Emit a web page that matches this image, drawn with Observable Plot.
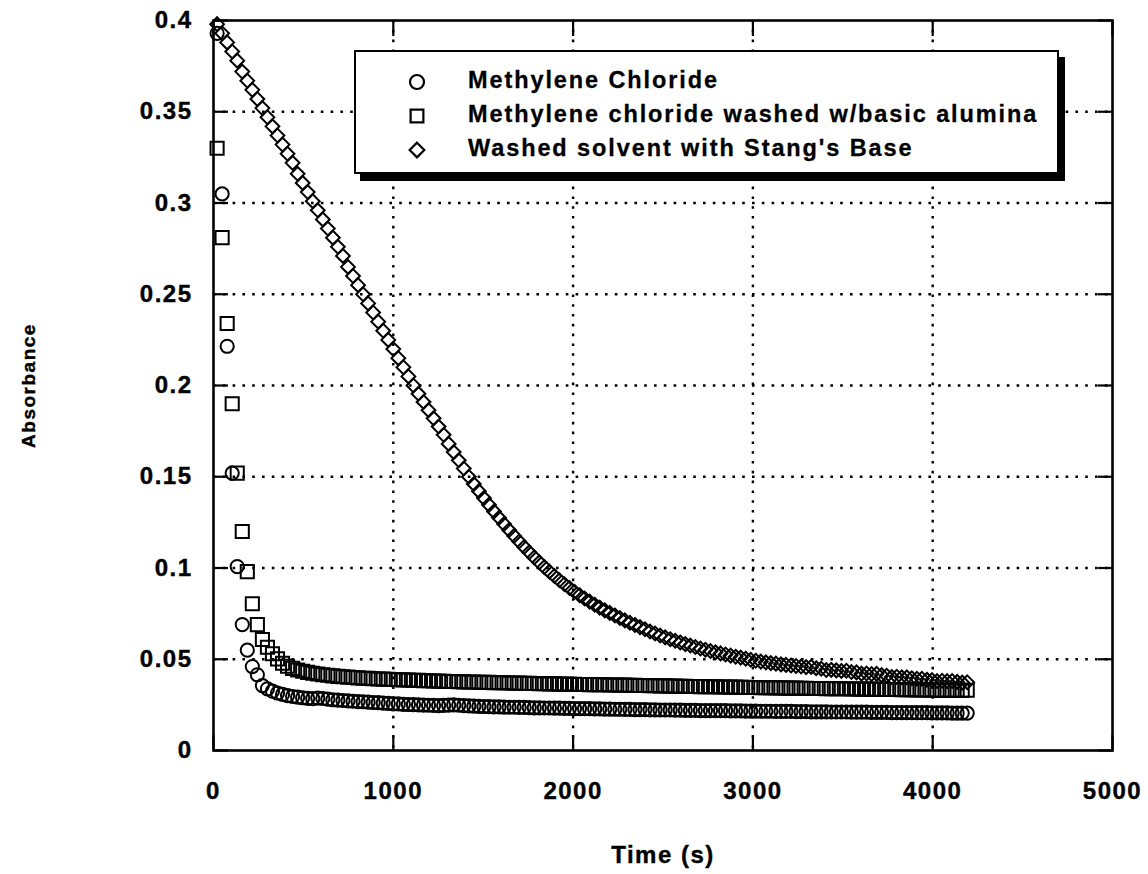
<!DOCTYPE html>
<html>
<head>
<meta charset="utf-8">
<script src="https://cdn.jsdelivr.net/npm/d3@7"></script>
<script src="https://cdn.jsdelivr.net/npm/@observablehq/plot@0.6"></script>
<style>
  html, body { margin: 0; padding: 0; background: #fff; }
  #wrap { position: relative; width: 1148px; height: 874px; }
  #wrap svg text { letter-spacing: 1.5px; stroke: #000; stroke-width: 0.4px; }
  #legend {
    position: absolute; left: 354px; top: 50px; width: 705px; height: 124px;
    box-sizing: border-box; border: 2.5px solid #000; background: #fff;
    box-shadow: 6px 7px 0 #000;
    font-family: "Liberation Sans", Arial, sans-serif; font-weight: bold; font-size: 23.5px;
    letter-spacing: 1.9px; color: #000; -webkit-text-stroke: 0.3px #000;
  }
  .row { position: absolute; left: 0; height: 30px; }
  .row svg { position: absolute; left: 50px; top: 5px; }
  .row span { position: absolute; left: 112px; white-space: nowrap; top: 1px; }
</style>
</head>
<body>
<div id="wrap"></div>
<script>
// ---- data ----
const seriesNames = ["Methylene Chloride", "Methylene chloride washed w/basic alumina", "Washed solvent with Stang's Base"];
const seriesSymbols = ["circle", "square", "diamond2"];

const time = [20,48,76,104,132,160,188,216,244,272,300,328,356,384,412,440,468,496,524,552,
580,608,636,664,692,720,748,776,804,832,860,888,916,944,972,1000,1028,1056,1084,1112,
1140,1168,1196,1224,1252,1280,1308,1336,1364,1392,1420,1448,1476,1504,1532,1560,1588,1616,1644,1672,
1700,1728,1756,1784,1812,1840,1868,1896,1924,1952,1980,2008,2036,2064,2092,2120,2148,2176,2204,2232,
2260,2288,2316,2344,2372,2400,2428,2456,2484,2512,2540,2568,2596,2624,2652,2680,2708,2736,2764,2792,
2820,2848,2876,2904,2932,2960,2988,3016,3044,3072,3100,3128,3156,3184,3212,3240,3268,3296,3324,3352,
3380,3408,3436,3464,3492,3520,3548,3576,3604,3632,3660,3688,3716,3744,3772,3800,3828,3856,3884,3912,
3940,3968,3996,4024,4052,4080,4108,4136,4164,4192];

const methyleneChloride = [0.393,0.305,0.2215,0.152,0.1008,0.069,0.055,0.046,0.0415,0.0356,
0.0338,0.0325,0.0315,0.0307,0.0301,0.0296,0.0292,0.0289,0.0286,0.0284,
0.0287,0.0285,0.0281,0.0278,0.0276,0.0274,0.0272,0.0270,0.0268,0.0267,
0.0265,0.0263,0.0262,0.0260,0.0258,0.0256,0.0255,0.0253,0.0252,0.0251,
0.0250,0.0249,0.0248,0.0247,0.0246,0.0247,0.0249,0.0250,0.0248,0.0246,
0.0244,0.0243,0.0242,0.0241,0.0240,0.0239,0.0239,0.0238,0.0237,0.0237,
0.0236,0.0236,0.0235,0.0234,0.0234,0.0233,0.0233,0.0232,0.0232,0.0231,
0.0231,0.0230,0.0230,0.0229,0.0229,0.0228,0.0228,0.0227,0.0227,0.0226,
0.0226,0.0225,0.0225,0.0224,0.0224,0.0224,0.0223,0.0223,0.0222,0.0222,
0.0222,0.0221,0.0221,0.0220,0.0220,0.0220,0.0219,0.0219,0.0219,0.0218,
0.0218,0.0218,0.0217,0.0217,0.0217,0.0216,0.0216,0.0216,0.0215,0.0215,
0.0215,0.0214,0.0214,0.0214,0.0214,0.0213,0.0213,0.0213,0.0212,0.0212,
0.0212,0.0212,0.0211,0.0211,0.0211,0.0211,0.0210,0.0210,0.0210,0.0210,
0.0209,0.0209,0.0209,0.0209,0.0208,0.0208,0.0208,0.0208,0.0207,0.0207,
0.0207,0.0207,0.0206,0.0206,0.0206,0.0206,0.0205,0.0205,0.0205,0.0205];

const washedAlumina = [0.330,0.281,0.234,0.190,0.152,0.120,0.098,0.0804,0.069,0.0608,
0.0566,0.0530,0.0502,0.0478,0.0462,0.0450,0.0441,0.0434,0.0428,0.0423,
0.0419,0.0415,0.0412,0.0409,0.0406,0.0404,0.0402,0.0400,0.0398,0.0396,
0.0395,0.0393,0.0392,0.0391,0.0390,0.0389,0.0388,0.0387,0.0386,0.0385,
0.0384,0.0383,0.0382,0.0381,0.0380,0.0379,0.0378,0.0378,0.0377,0.0376,
0.0375,0.0375,0.0374,0.0373,0.0373,0.0372,0.0371,0.0371,0.0370,0.0369,
0.0369,0.0368,0.0368,0.0367,0.0366,0.0366,0.0365,0.0365,0.0364,0.0364,
0.0363,0.0363,0.0362,0.0362,0.0361,0.0361,0.0360,0.0360,0.0359,0.0359,
0.0358,0.0358,0.0357,0.0357,0.0356,0.0356,0.0355,0.0355,0.0354,0.0354,
0.0353,0.0353,0.0352,0.0352,0.0351,0.0351,0.0350,0.0350,0.0349,0.0349,
0.0348,0.0348,0.0347,0.0347,0.0346,0.0346,0.0345,0.0345,0.0344,0.0344,
0.0344,0.0343,0.0343,0.0342,0.0342,0.0342,0.0341,0.0341,0.0340,0.0340,
0.0340,0.0339,0.0339,0.0338,0.0338,0.0338,0.0337,0.0337,0.0336,0.0336,
0.0336,0.0335,0.0335,0.0334,0.0334,0.0334,0.0333,0.0333,0.0333,0.0332,
0.0332,0.0332,0.0331,0.0331,0.0331,0.0330,0.0330,0.0330,0.0330,0.0330];

const stangsBase = [0.398,0.393,0.388,0.383,0.378,0.372,0.367,0.362,0.357,0.352,
0.347,0.342,0.337,0.332,0.327,0.322,0.316,0.311,0.306,0.301,
0.296,0.291,0.286,0.281,0.276,0.271,0.265,0.260,0.255,0.250,
0.245,0.240,0.235,0.230,0.225,0.220,0.215,0.210,0.205,0.200,
0.1955,0.191,0.1865,0.182,0.1775,0.173,0.168,0.1635,0.159,0.1545,
0.150,0.1460,0.1421,0.1383,0.1346,0.1310,0.1275,0.1241,0.1208,0.1176,
0.1145,0.1115,0.1086,0.1058,0.1031,0.1005,0.0980,0.0956,0.0933,0.0911,
0.0890,0.0870,0.0851,0.0833,0.0816,0.0799,0.0783,0.0768,0.0754,0.0740,
0.0726,0.0713,0.0700,0.0688,0.0676,0.0664,0.0652,0.0641,0.0630,0.0620,
0.0610,0.0601,0.0592,0.0583,0.0575,0.0567,0.0559,0.0552,0.0545,0.0538,
0.0532,0.0526,0.0520,0.0514,0.0509,0.0503,0.0497,0.0492,0.0487,0.0483,
0.0479,0.0476,0.0472,0.0469,0.0466,0.0463,0.0460,0.0457,0.0458,0.0451,
0.0448,0.0441,0.0442,0.0439,0.0436,0.0437,0.0430,0.0428,0.0421,0.0422,
0.0419,0.0420,0.0413,0.0410,0.0403,0.0404,0.0401,0.0401,0.0396,0.0393,
0.0393,0.0388,0.0386,0.0381,0.0382,0.0380,0.0381,0.0376,0.0372,0.0374];

const xTicks = [0, 1000, 2000, 3000, 4000, 5000];
const yTicks = [0, 0.05, 0.1, 0.15, 0.2, 0.25, 0.3, 0.35, 0.4];
const xTitle = "Time (s)";
const yTitle = "Absorbance";

// ---- build ----
const seriesValues = [methyleneChloride, washedAlumina, stangsBase];
const seriesR = [6.6, 7.4, 6.2];
const rows = (k) => time.map((t, i) => ({t, v: seriesValues[k][i]}));

const grid = {stroke: "#000", strokeOpacity: 1, strokeWidth: 2.4, strokeDasharray: "2.6,7.2"};
const blank = () => "";

const chart = Plot.plot({
  width: 1148,
  height: 874,
  marginTop: 20,
  marginBottom: 124,
  marginLeft: 213,
  marginRight: 36,
  style: {fontFamily: "'Liberation Sans', Arial, sans-serif", fontSize: "24px", fontWeight: "bold", color: "#000", background: "#fff"},
  x: {domain: [0, 5000]},
  y: {domain: [0, 0.4]},
  marks: [
    Plot.gridX(xTicks.slice(1, -1), grid),
    Plot.gridY(yTicks.slice(1, -1), grid),
    Plot.axisX(xTicks, {anchor: "bottom", tickSize: 0, tickPadding: 31, tickFormat: d => String(d), label: null}),
    Plot.axisY(yTicks, {anchor: "left", tickSize: 0, tickPadding: 21, tickFormat: d => String(d), label: null}),
    Plot.axisX(xTicks, {anchor: "bottom", tickSize: -15, strokeWidth: 2.2, tickFormat: blank, label: null}),
    Plot.axisX(xTicks, {anchor: "top", tickSize: -15, strokeWidth: 2.2, tickFormat: blank, label: null}),
    Plot.axisY(yTicks, {anchor: "left", tickSize: -15, strokeWidth: 2.2, tickFormat: blank, label: null}),
    Plot.axisY(yTicks, {anchor: "right", tickSize: -15, strokeWidth: 2.2, tickFormat: blank, label: null}),
    Plot.frame({stroke: "#000", strokeWidth: 2.6}),
    ...[0, 1, 2].map(k => Plot.dot(rows(k), {
      x: "t", y: "v", symbol: seriesSymbols[k], r: seriesR[k],
      stroke: "#000", strokeWidth: 2, fill: "none"
    })),
    Plot.text([yTitle], {frameAnchor: "left", dx: -185, rotate: -90, textAnchor: "middle", text: d => d, fontSize: 19}),
    Plot.text([xTitle], {frameAnchor: "bottom", dy: 112, textAnchor: "middle", text: d => d, fontSize: 24})
  ]
});

const wrap = document.getElementById("wrap");
wrap.appendChild(chart);

// legend overlay
const legend = document.createElement("div");
legend.id = "legend";
const rowTops = [14, 48, 82];
const symPaths = {
  circle: d3.symbol(d3.symbolCircle, Math.PI * 7 * 7)(),
  square: d3.symbol(d3.symbolSquare, Math.PI * 7.2 * 7.2)(),
  diamond2: d3.symbol(d3.symbolDiamond2, Math.PI * 6.6 * 6.6)()
};
seriesNames.forEach((name, k) => {
  const row = document.createElement("div");
  row.className = "row";
  row.style.top = rowTops[k] + "px";
  row.innerHTML = `<svg width="22" height="22" viewBox="-11 -11 22 22"><path d="${symPaths[seriesSymbols[k]]}" fill="none" stroke="#000" stroke-width="2.2"/></svg><span>${name}</span>`;
  legend.appendChild(row);
});
wrap.appendChild(legend);
</script>
</body>
</html>
